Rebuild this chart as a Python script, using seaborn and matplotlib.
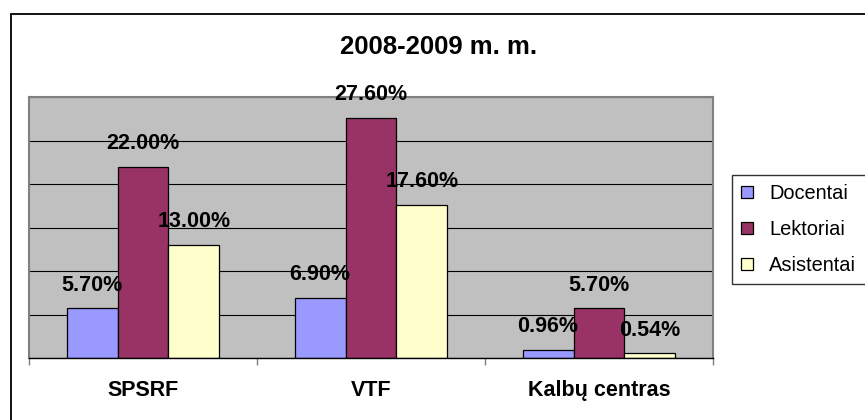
import matplotlib
matplotlib.use("Agg")
import matplotlib.pyplot as plt
import matplotlib.patches as mpatches
import pandas as pd
import seaborn as sns

# ── Data ──────────────────────────────────────────────────────────────────────
categories = ["SPSRF", "VTF", "Kalbų centras"]
series = ["Docentai", "Lektoriai", "Asistentai"]
docentai = [5.70, 6.90, 0.96]
lektoriai = [22.00, 27.60, 5.70]
asistentai = [13.00, 17.60, 0.54]
colors = ["#9999FF", "#993366", "#FFFFCC"]
title = "2008-2009 m. m."

rows = []
for name, vals in zip(series, [docentai, lektoriai, asistentai]):
    for cat, v in zip(categories, vals):
        rows.append({"Padalinys": cat, "Pareigos": name, "Procentai": v})
df = pd.DataFrame(rows)

plt.rcParams["font.family"] = ["Liberation Sans", "DejaVu Sans"]

W, H = 865, 420
fig = plt.figure(figsize=(W / 100, H / 100), dpi=100)
ax = fig.add_axes([29 / W, 1 - 358 / H, (713 - 29) / W, (358 - 97) / H])

sns.barplot(
    data=df, x="Padalinys", y="Procentai", hue="Pareigos",
    order=categories, hue_order=series, palette=colors,
    width=0.67, edgecolor="black", linewidth=0.9, saturation=1,
    errorbar=None, legend=False, ax=ax,
)

ax.set_facecolor("#C0C0C0")
ax.set_ylim(0, 30)
ax.set_xlim(-0.5, len(categories) - 0.5)
ax.set_yticks(range(0, 31, 5))
ax.yaxis.grid(True, color="black", linewidth=0.8)
ax.set_axisbelow(True)
ax.tick_params(axis="y", length=0, labelleft=False)
ax.tick_params(axis="x", length=0, pad=16)
ax.set_xticks([i - 0.5 for i in range(len(categories) + 1)], minor=True)
ax.tick_params(axis="x", which="minor", length=5, color="#808080", width=1)
for lbl in ax.get_xticklabels():
    lbl.set_fontsize(15.5)
    lbl.set_fontweight("bold")
ax.set_xlabel("")
ax.set_ylabel("")
for side in ["top", "left", "right"]:
    ax.spines[side].set_color("#808080")
    ax.spines[side].set_linewidth(1.5)
ax.spines["bottom"].set_color("black")
ax.spines["bottom"].set_linewidth(1)

for cont in ax.containers:
    ax.bar_label(cont, labels=[f"{b.get_height():.2f}%" for b in cont],
                 padding=9, fontsize=15.5, fontweight="bold")

fig.text(439 / W, 1 - 47 / H, title, ha="center", va="center",
         fontsize=18.5, fontweight="bold")

handles = [mpatches.Patch(facecolor=c, edgecolor="black", linewidth=0.9) for c in colors]
fig.legend(handles, series, loc="upper left",
           bbox_to_anchor=(732 / W, 1 - 281 / H, 0.2, 106 / H), mode="expand",
           fontsize=14.4, frameon=True, fancybox=False, edgecolor="black",
           handlelength=0.6, handleheight=0.6, handletextpad=0.8,
           labelspacing=0.85, borderpad=0.45, borderaxespad=0)
fig.legends[0].get_frame().set_linewidth(1)

fig.patches.append(mpatches.Rectangle(
    (11 / W, -0.1), 1.2, 1.1 - 14 / H, transform=fig.transFigure,
    fill=False, edgecolor="black", linewidth=1.3))

fig.savefig("out.png", dpi=100)
